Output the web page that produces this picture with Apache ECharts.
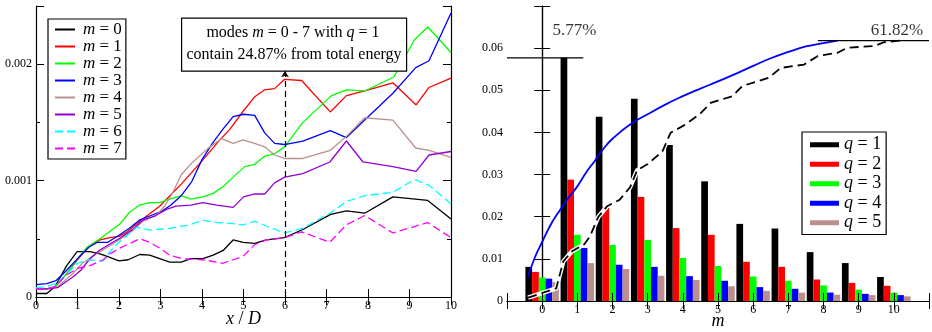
<!DOCTYPE html>
<html><head><meta charset="utf-8">
<script src="https://cdn.jsdelivr.net/npm/echarts@6/dist/echarts.min.js"></script>
<style>html,body{margin:0;padding:0;background:#fff}#c{width:932px;height:332px}</style>
</head><body><div id="c"></div><script>
const SERIF = 'Liberation Serif';

// ---------- Left panel: mode energy (units of 1e-3) vs x/D ----------
const m0 = [[0,0.03],[0.26,0.03],[0.46,0.09],[0.74,0.27],[0.99,0.39],[1.3,0.39],[1.54,0.37],[1.78,0.34],[2.0,0.31],[2.22,0.32],[2.5,0.365],[2.74,0.36],[2.98,0.33],[3.22,0.30],[3.5,0.30],[3.73,0.33],[4.02,0.33],[4.27,0.36],[4.51,0.40],[4.75,0.49],[4.99,0.47],[5.27,0.46],[5.55,0.49],[5.99,0.51],[6.43,0.58],[7.1,0.71],[7.48,0.74],[7.92,0.72],[8.6,0.86],[9.44,0.83],[10,0.67]];
const m1 = [[0,0.07],[0.26,0.07],[0.46,0.085],[0.74,0.2],[1.0,0.32],[1.26,0.43],[1.54,0.49],[1.78,0.51],[2.0,0.52],[2.2,0.56],[2.5,0.65],[2.98,0.78],[3.5,0.97],[4.0,1.17],[4.43,1.35],[4.67,1.44],[5.0,1.6],[5.27,1.72],[5.51,1.78],[5.75,1.79],[5.99,1.87],[6.4,1.86],[7.09,1.59],[7.48,1.73],[7.92,1.77],[8.6,1.84],[9.16,1.65],[9.47,1.80],[10,1.88]];
const m2 = [[0,0.07],[0.26,0.07],[0.46,0.09],[0.74,0.2],[1.0,0.33],[1.24,0.43],[1.54,0.50],[2.0,0.62],[2.26,0.73],[2.5,0.79],[2.74,0.81],[2.98,0.81],[3.22,0.84],[3.5,0.87],[3.73,0.84],[4.02,0.86],[4.27,0.89],[4.51,0.95],[4.75,1.03],[5.03,1.12],[5.27,1.14],[5.51,1.21],[5.75,1.23],[5.99,1.29],[6.43,1.50],[7.12,1.73],[7.48,1.78],[7.92,1.77],[8.62,1.89],[9.12,2.21],[9.44,2.32],[10,2.10]];
const m3 = [[0,0.107],[0.26,0.115],[0.48,0.14],[0.74,0.23],[1.0,0.33],[1.28,0.43],[1.48,0.47],[1.73,0.47],[2.0,0.53],[2.25,0.59],[2.49,0.66],[2.77,0.70],[3.05,0.74],[3.25,0.79],[3.5,0.87],[3.75,0.99],[4.0,1.18],[4.25,1.32],[4.5,1.44],[4.75,1.55],[5.0,1.57],[5.27,1.56],[5.51,1.41],[5.75,1.32],[5.99,1.31],[6.43,1.34],[7.09,1.43],[7.48,1.37],[7.92,1.52],[8.6,1.75],[9.15,1.97],[9.47,2.03],[10,2.44]];
const m4 = [[0,0.07],[0.26,0.07],[0.52,0.086],[0.88,0.2],[1.12,0.29],[1.4,0.36],[1.68,0.42],[2.0,0.49],[2.33,0.57],[2.57,0.65],[2.89,0.70],[3.1,0.78],[3.3,0.9],[3.5,1.05],[3.75,1.15],[4.19,1.29],[4.47,1.36],[4.75,1.32],[4.99,1.35],[5.27,1.32],[5.51,1.29],[5.75,1.22],[5.99,1.19],[6.43,1.19],[7.09,1.26],[7.48,1.38],[7.92,1.54],[8.6,1.52],[9.15,1.28],[9.47,1.26],[10,1.20]];
const m5 = [[0,0.07],[0.26,0.07],[0.52,0.08],[0.88,0.17],[1.08,0.23],[1.28,0.32],[1.52,0.40],[1.85,0.47],[2.0,0.50],[2.33,0.58],[2.57,0.66],[2.89,0.70],[3.13,0.75],[3.37,0.78],[3.73,0.79],[4.02,0.81],[4.35,0.79],[4.75,0.77],[5.0,0.86],[5.27,0.885],[5.51,0.885],[5.75,0.98],[5.99,1.03],[6.43,1.06],[7.08,1.16],[7.48,1.34],[7.88,1.16],[8.6,1.12],[9.16,1.08],[9.47,1.22],[10,1.25]];
const m6 = [[0,0.08],[0.26,0.09],[0.5,0.12],[0.75,0.2],[1.0,0.29],[1.24,0.32],[1.62,0.31],[1.78,0.39],[2.0,0.47],[2.2,0.53],[2.42,0.60],[2.74,0.575],[3.22,0.59],[3.71,0.62],[4.02,0.66],[4.35,0.64],[4.75,0.63],[4.99,0.62],[5.27,0.65],[5.55,0.61],[5.99,0.55],[6.43,0.59],[7.08,0.72],[7.48,0.82],[7.92,0.87],[8.6,0.90],[9.12,1.01],[9.47,0.96],[10,0.80]];
const m7 = [[0,0.07],[0.26,0.07],[0.46,0.09],[0.74,0.19],[1.0,0.245],[1.3,0.27],[1.62,0.32],[1.78,0.37],[2.02,0.42],[2.26,0.46],[2.5,0.50],[2.74,0.47],[2.98,0.42],[3.22,0.36],[3.5,0.33],[4.02,0.32],[4.51,0.29],[4.75,0.32],[4.99,0.35],[5.27,0.45],[5.55,0.49],[5.99,0.51],[6.4,0.56],[7.08,0.47],[7.48,0.62],[7.92,0.70],[8.6,0.55],[9.44,0.64],[10,0.51]];
const mSeriesData = [m0, m1, m2, m3, m4, m5, m6, m7];
const mNames = ['m = 0','m = 1','m = 2','m = 3','m = 4','m = 5','m = 6','m = 7'];
const mColors = ['#000000','#ff0000','#00ff00','#0000ff','#bc8f8f','#9400d3','#00ffff','#ff00ff'];
const mDashed = [false,false,false,false,false,false,true,true];
const arrowX = 6, arrowTop = 1.94;

// ---------- Right panel: energy per mode m for q = 1..5 ----------
const mCats = [0,1,2,3,4,5,6,7,8,9,10];
const q1 = [0.0081,0.0577,0.0437,0.0480,0.0370,0.0284,0.0183,0.0172,0.0116,0.0090,0.0057];
const q2 = [0.0069,0.0288,0.0223,0.0247,0.0173,0.0157,0.0093,0.0081,0.0051,0.0043,0.0036];
const q3 = [0.0056,0.0157,0.0133,0.0145,0.0102,0.0083,0.0058,0.0048,0.0037,0.0027,0.0020];
const q4 = [0.0053,0.0126,0.0086,0.0081,0.0059,0.0048,0.0033,0.0029,0.0020,0.0017,0.0014];
const q5 = [0.0045,0.0090,0.0076,0.0060,0.0050,0.0035,0.0024,0.0020,0.0015,0.0014,0.0011];
const qValues = [q1, q2, q3, q4, q5];
const qNames = ['q = 1','q = 2','q = 3','q = 4','q = 5'];
const qColors = ['#000000','#ff0000','#00ff00','#0000ff','#bc8f8f'];
const fitX = [-0.4,-0.2,0,0.25,0.5,0.75,1.0,1.25,1.5,1.75,2.0,2.5,3.0,3.5,4.0,4.5,5.0,5.5,6.0,6.5,7.0,7.5,8.0,8.4];
const fitY = [0.0058,0.0105,0.0140,0.0182,0.0215,0.0245,0.0272,0.0305,0.0333,0.0362,0.0385,0.0419,0.0443,0.0466,0.0486,0.0504,0.0521,0.0539,0.0558,0.0576,0.0591,0.0604,0.0612,0.0618];
const cumX = [-0.4,0.4,0.6,0.85,1.2,1.35,1.6,1.85,2.2,2.5,2.7,3.0,3.42,3.65,4.08,4.5,4.79,5.41,5.69,6.45,6.78,7.45,7.83,8.4,8.68,9.44,9.72,10.2];
const cumY = [0.0008,0.0030,0.0094,0.0118,0.0135,0.0152,0.0200,0.0225,0.0240,0.0270,0.0310,0.0325,0.0355,0.0399,0.0419,0.0445,0.0470,0.0486,0.0510,0.0530,0.0553,0.0561,0.0581,0.0589,0.0601,0.0605,0.0614,0.0618];
const refLine1 = {y: 0.0577, from: -1, to: 1.17, text: '5.77%', at: 0.92};
const refLine2 = {y: 0.0618, from: 7.84, to: 11, text: '61.82%', at: 10.09};
const refTextY = 0.0642;

const axisBase = {
  axisLine: {show: true, lineStyle: {color: '#000', width: 1.2}},
  splitLine: {show: false},
  axisTick: {show: true, inside: true, length: 8, lineStyle: {color: '#000', width: 1}},
  axisLabel: {show: false}
};
const lbl = {show: true, fontFamily: SERIF, fontSize: 12, color: '#000', margin: 4};
function ax(extra) { return Object.assign({}, JSON.parse(JSON.stringify(axisBase)), extra); }

const xAxis = [
  ax({gridIndex: 0, type: 'value', position: 'bottom', min: 0, max: 10, interval: 1,
      axisLabel: Object.assign({}, lbl, {margin: 3}),
      name: '{i|x} / {i|D}', nameLocation: 'middle', nameGap: 13, nameMoveOverlap: false,
      nameTextStyle: {fontFamily: SERIF, fontSize: 18, color: '#000', rich: {i: {fontFamily: SERIF, fontSize: 18, fontStyle: 'italic', color: '#000'}}}}),
  ax({gridIndex: 0, type: 'value', position: 'top', min: 0, max: 10, interval: 1}),
  ax({gridIndex: 1, type: 'value', position: 'bottom', min: -1, max: 11, interval: 1, z: 10,
      axisLabel: Object.assign({}, lbl, {margin: 3, formatter: v => (v < 0 || v > 10) ? '' : String(v)}),
      name: 'm', nameLocation: 'middle', nameGap: 11, nameMoveOverlap: false,
      nameTextStyle: {fontFamily: SERIF, fontSize: 18, fontStyle: 'italic', color: '#000'}}),
  ax({gridIndex: 1, type: 'value', position: 'top', min: -1, max: 11, interval: 1})
];
const yAxis = [
  ax({gridIndex: 0, type: 'value', position: 'left', min: 0, max: 2.5, interval: 1,
      axisLabel: Object.assign({}, lbl, {formatter: v => v === 0 ? '0' : (Number.isInteger(v) ? (v / 1000).toFixed(3) : '')})}),
  ax({gridIndex: 0, type: 'value', position: 'left', min: 0, max: 2.5, interval: 0.5,
      axisLine: {show: false}, axisTick: {show: true, inside: true, length: 4, lineStyle: {color: '#000'}}}),
  ax({gridIndex: 0, type: 'value', position: 'right', min: 0, max: 2.5, interval: 1}),
  ax({gridIndex: 0, type: 'value', position: 'right', min: 0, max: 2.5, interval: 0.5,
      axisLine: {show: false}, axisTick: {show: true, inside: true, length: 4, lineStyle: {color: '#000'}}}),
  ax({gridIndex: 1, type: 'value', position: 'left', min: 0, max: 0.07, interval: 0.01,
      axisLabel: Object.assign({}, lbl, {formatter: v => v === 0 ? '0' : (v > 0.065 ? '' : v.toFixed(2))})}),
  ax({gridIndex: 1, type: 'value', position: 'right', min: 0, max: 0.07, interval: 0.01})
];

const series = [];
mSeriesData.forEach((d, i) => {
  const s = {
    type: 'line', name: mNames[i], xAxisIndex: 0, yAxisIndex: 0, data: d,
    symbol: 'none', showSymbol: false,
    lineStyle: {color: mColors[i], width: 1.3, type: mDashed[i] ? [8, 4] : 'solid'},
    itemStyle: {color: mColors[i]}
  };
  if (i === 0) {
    s.markLine = {
      silent: true, symbol: ['none', 'arrow'], symbolSize: 6, label: {show: false},
      lineStyle: {color: '#000', width: 1.2, type: [6, 4]},
      data: [[{coord: [arrowX, 0]}, {coord: [arrowX, arrowTop]}]]
    };
  }
  series.push(s);
});
qValues.forEach((vals, i) => {
  series.push({
    type: 'bar', name: qNames[i], xAxisIndex: 2, yAxisIndex: 4,
    data: mCats.map((m, k) => [m, vals[k]]),
    barWidth: 6.7, barGap: '0%',
    itemStyle: {color: qColors[i]}
  });
});
series.push({
  type: 'line', name: 'cumHalo', xAxisIndex: 2, yAxisIndex: 4, symbol: 'none',
  data: cumX.map((x, k) => [x, cumY[k]]),
  lineStyle: {color: '#fff', width: 4.5}, silent: true
});
series.push({
  type: 'line', name: 'cum', xAxisIndex: 2, yAxisIndex: 4, symbol: 'none',
  data: cumX.map((x, k) => [x, cumY[k]]),
  lineStyle: {color: '#000', width: 1.8, type: [9, 5]}
});
series.push({
  type: 'line', name: 'fit', xAxisIndex: 2, yAxisIndex: 4, symbol: 'none', smooth: true,
  data: fitX.map((x, k) => [x, fitY[k]]),
  lineStyle: {color: '#0000ff', width: 1.8}
});
[refLine1, refLine2].forEach((r, i) => {
  series.push({
    type: 'line', name: 'ref' + i, xAxisIndex: 2, yAxisIndex: 4, symbol: 'none',
    data: [[r.from, r.y], [r.to, r.y]],
    lineStyle: {color: '#000', width: 1.2}
  });
  series.push({
    type: 'scatter', name: 'reftxt' + i, xAxisIndex: 2, yAxisIndex: 4,
    symbolSize: 1, itemStyle: {color: 'rgba(0,0,0,0)'},
    data: [[r.at, refTextY]],
    label: {show: true, position: 'inside', formatter: r.text, fontFamily: SERIF, fontSize: 17, color: '#000'}
  });
});

const option = {
  animation: false,
  backgroundColor: '#fff',
  grid: [
    {left: 36, top: 6, width: 415, height: 291, outerBoundsMode: 'none'},
    {left: 507, top: 6, width: 422, height: 295, outerBoundsMode: 'none'}
  ],
  xAxis, yAxis, series,
  legend: [
    {
      data: mNames, orient: 'vertical', left: 48, top: 19, selectedMode: false,
      itemWidth: 20, itemHeight: 14, itemGap: 0, padding: [2, 4, 2, 6],
      backgroundColor: '#fff', borderColor: '#000', borderWidth: 1.2,
      itemStyle: {opacity: 0},
      formatter: n => '{i|m}' + n.slice(1),
      textStyle: {fontFamily: SERIF, fontSize: 17, lineHeight: 16, color: '#000',
        rich: {i: {fontFamily: SERIF, fontSize: 17, lineHeight: 16, fontStyle: 'italic', color: '#000', padding: [0, 0, 0, 3]}}}
    },
    {
      data: qNames, orient: 'vertical', left: 802, top: 132, selectedMode: false,
      icon: 'rect', itemWidth: 29, itemHeight: 5, itemGap: 0, padding: [3, 5, 2, 8],
      backgroundColor: '#fff', borderColor: '#000', borderWidth: 1.2,
      formatter: n => '{i|q}' + n.slice(1),
      textStyle: {fontFamily: SERIF, fontSize: 18, lineHeight: 19.5, color: '#000',
        rich: {i: {fontFamily: SERIF, fontSize: 18, lineHeight: 19.5, fontStyle: 'italic', color: '#000'}}}
    }
  ],
  graphic: [
    {type: 'rect', left: 181, top: 17.5, shape: {width: 225, height: 53},
     style: {fill: '#fff', stroke: '#000', lineWidth: 1.2}, z: 100},
    {type: 'text', x: 293, y: 33, z: 101,
     style: {text: 'modes {i|m} = 0 - 7 with {i|q} = 1', align: 'center', verticalAlign: 'middle',
       fontFamily: SERIF, fontSize: 16, fill: '#000',
       rich: {i: {fontFamily: SERIF, fontSize: 16, fontStyle: 'italic', fill: '#000'}}}},
    {type: 'text', x: 294, y: 55, z: 101,
     style: {text: 'contain 24.87% from total energy', align: 'center', verticalAlign: 'middle',
       fontFamily: SERIF, fontSize: 16, fill: '#000'}}
  ]
};
const chart = echarts.init(document.getElementById('c'), null, {renderer: 'canvas'});
chart.setOption(option);
</script></body></html>
